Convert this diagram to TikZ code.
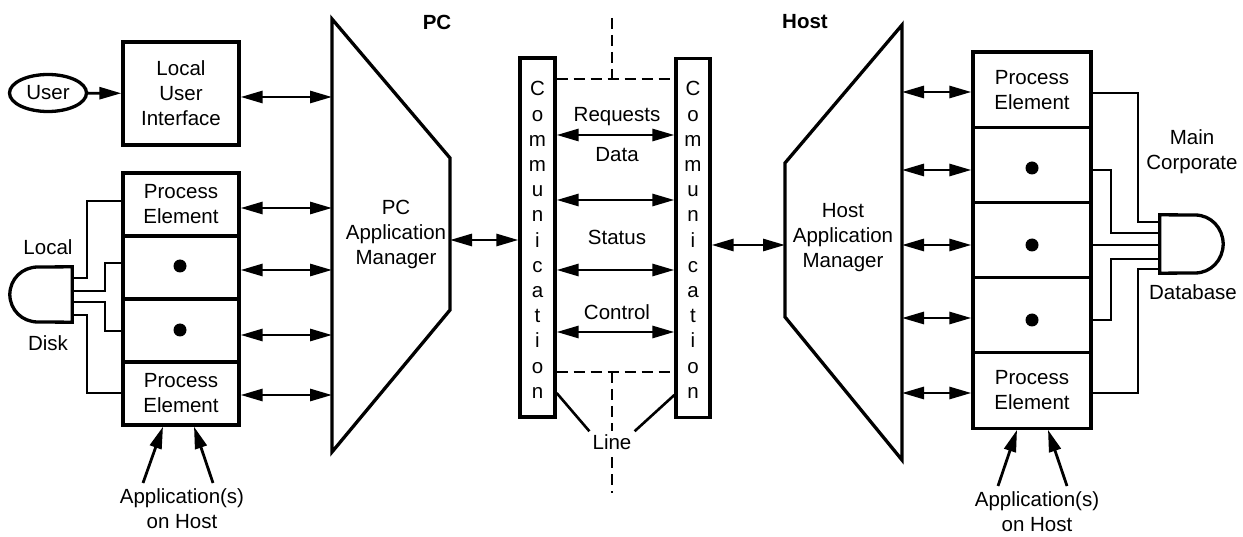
\documentclass[tikz,border=0pt]{standalone}
\usepackage{fontspec}
\setmainfont{Liberation Sans}
\usetikzlibrary{arrows.meta,shapes.geometric}
\begin{document}
\begin{tikzpicture}[x=1pt,y=-1pt,
  >={Triangle[length=22pt,width=12pt]},
  every node/.style={font=\fontsize{20.5}{25}\selectfont},
  box/.style={draw, line width=3.3pt, inner sep=0pt, align=center},
  wire/.style={line width=2.6pt},
  conn/.style={line width=2.8pt},
  shapeline/.style={line width=3.3pt, line join=miter},
  dashline/.style={line width=2.8pt, dash pattern=on 11pt off 6pt},
  lbl/.style={align=center, inner sep=1pt},
  dot/.style={circle, fill, minimum size=13pt, inner sep=0pt},
  title/.style={font=\fontsize{20.5}{25}\selectfont\bfseries}
]
\useasboundingbox (0,0) rectangle (1243,537);

% titles
\node[title] (pcT) at (437,22) {PC};
\node[title] (hostT) at (805,22) {Host};

% user and local user interface
\node[draw, ellipse, line width=3.3pt, minimum width=77pt, minimum height=37pt, inner sep=0pt] (user) at (48,93) {User};
\node[box, minimum width=116pt, minimum height=103pt] (lui) at (181,93.5) {Local\\User\\Interface};
\draw[conn,->] (user) -- (lui);

% PC application manager
\coordinate (pcA) at (332,19);
\coordinate (pcB) at (450,158);
\coordinate (pcC) at (450,310);
\coordinate (pcD) at (332,452);
\draw[shapeline] (pcA) -- (pcB) -- (pcC) -- (pcD) -- cycle;
\node[lbl] (pcm) at (396,234) {PC\\Application\\Manager};

% left stack
\node[box, minimum width=116pt, minimum height=63pt] (lp1) at (181,204.5) {Process\\Element};
\node[box, minimum width=116pt, minimum height=63pt] (lp2) at (181,267.5) {};
\node[box, minimum width=116pt, minimum height=63pt] (lp3) at (181,330.5) {};
\node[box, minimum width=116pt, minimum height=63pt] (lp4) at (181,393.5) {Process\\Element};
\node[dot] (ld1) at (180,266) {};
\node[dot] (ld2) at (180,330) {};

\draw[conn,<->] (lui.east |- 0,97) -- (pcA |- 0,97);
\draw[conn,<->] (lp1.east |- 0,208) -- (pcA |- 0,208);
\draw[conn,<->] (lp2.east |- 0,270) -- (pcA |- 0,270);
\draw[conn,<->] (lp3.east |- 0,335) -- (pcA |- 0,335);
\draw[conn,<->] (lp4.east |- 0,395) -- (pcA |- 0,395);

% local disk
\node[minimum width=62pt, minimum height=55pt, inner sep=0pt] (ldisk) at (41,294.5) {};
\draw[shapeline] (ldisk.north east) -- (38,267) .. controls (22,267) and (10,279) .. (ldisk.west)
  .. controls (10,310) and (22,322) .. (38,322) -- (ldisk.south east) -- cycle;
\node[lbl] (localT) at (48,247) {Local};
\node[lbl] (diskT) at (48,343) {Disk};
\draw[wire] (ldisk.east |- 0,278) -| (87,201) -- (lp1.west |- 0,201);
\draw[wire] (ldisk.east |- 0,291) -| (105,263) -- (lp2.west |- 0,263);
\draw[wire] (ldisk.east |- 0,302) -| (105,331) -- (lp3.west |- 0,331);
\draw[wire] (ldisk.east |- 0,315) -| (87,393) -- (lp4.west |- 0,393);

% applications (left)
\node[lbl] (appL) at (182,509) {Application(s)\\on Host};
\coordinate (aL1) at (143,483);
\coordinate (aL2) at (213,483);
\draw[conn,->] (aL1) -- (lp4.south -| 163,0);
\draw[conn,->] (aL2) -- (lp4.south -| 194,0);

% communication boxes
\node[draw, line width=3.3pt, minimum width=35pt, minimum height=359pt, inner sep=0pt] (commL) at (537.5,237.5) {};
\node[draw, line width=3.3pt, minimum width=34pt, minimum height=359pt, inner sep=0pt] (commR) at (693,238) {};
\foreach \ch [count=\i] in {C,o,m,m,u,n,i,c,a,t,i,o,n}{
  \node[anchor=base, inner sep=0pt] (cl\i) at (537.5,{96+(\i-1)*25.2}) {\ch};
  \node[anchor=base, inner sep=0pt] (cr\i) at (693,{96+(\i-1)*25.2}) {\ch};
}

% line (dashed)
\draw[dashline] (612,18) -- (612,79);
\draw[dashline] (commL.east |- 0,79) -- (commR.west |- 0,79);
\draw[dashline] (commL.east |- 0,372) -- (commR.west |- 0,372);
\draw[dashline] (612,372) -- (612,493);
\node[lbl, fill=white, inner sep=3pt] (lineT) at (612,442) {Line};
\draw[wire] (commL.east |- 0,393) -- (lineT.north west);
\draw[wire] (commR.west |- 0,395) -- (lineT.north east);

% messages
\node[lbl] (reqT) at (617,117) {Requests};
\node[lbl] (dataT) at (617,155) {Data};
\node[lbl] (statT) at (617,237) {Status};
\node[lbl] (ctrlT) at (617,312) {Control};
\draw[conn,<->] (commL.east |- 0,135) -- (commR.west |- 0,135);
\draw[conn,<->] (commL.east |- 0,200) -- (commR.west |- 0,200);
\draw[conn,<->] (commL.east |- 0,270) -- (commR.west |- 0,270);
\draw[conn,<->] (commL.east |- 0,332) -- (commR.west |- 0,332);

% manager <-> communication
\draw[conn,<->] (pcB |- 0,240) -- (commL.west |- 0,240);

% host application manager
\coordinate (hmA) at (902,25);
\coordinate (hmB) at (785,163);
\coordinate (hmC) at (785,317);
\coordinate (hmD) at (902,460);
\draw[shapeline] (hmA) -- (hmB) -- (hmC) -- (hmD) -- cycle;
\node[lbl] (hm) at (843,238) {Host\\Application\\Manager};
\draw[conn,<->] (commR.east |- 0,245) -- (hmB |- 0,245);

% right stack
\node[box, minimum width=118pt, minimum height=75.2pt] (rp1) at (1032,89.6) {Process\\Element};
\node[box, minimum width=118pt, minimum height=75.2pt] (rp2) at (1032,164.8) {};
\node[box, minimum width=118pt, minimum height=75.2pt] (rp3) at (1032,240) {};
\node[box, minimum width=118pt, minimum height=75.2pt] (rp4) at (1032,315.2) {};
\node[box, minimum width=118pt, minimum height=75.6pt] (rp5) at (1032,390.4) {Process\\Element};
\node[dot] (rd1) at (1032,168) {};
\node[dot] (rd2) at (1032,245) {};
\node[dot] (rd3) at (1032,320) {};

\draw[conn,<->] (hmA |- 0,92) -- (rp1.west |- 0,92);
\draw[conn,<->] (hmA |- 0,170) -- (rp2.west |- 0,170);
\draw[conn,<->] (hmA |- 0,245) -- (rp3.west |- 0,245);
\draw[conn,<->] (hmA |- 0,318) -- (rp4.west |- 0,318);
\draw[conn,<->] (hmA |- 0,393) -- (rp5.west |- 0,393);

% main corporate database
\node[minimum width=63pt, minimum height=58pt, inner sep=0pt] (rdisk) at (1191.5,244) {};
\draw[shapeline] (rdisk.north west) -- (1195,215) .. controls (1211,215) and (1223,228) .. (rdisk.east)
  .. controls (1223,260) and (1211,273) .. (1195,273) -- (rdisk.south west) -- cycle;
\node[lbl] (mainT) at (1192,152) {Main\\Corporate};
\node[lbl] (dbT) at (1193,292) {Database};
\draw[wire] (rp1.east |- 0,93) -| (1138,222) -- (rdisk.west |- 0,222);
\draw[wire] (rp2.east |- 0,170) -| (1111,233) -- (rdisk.west |- 0,233);
\draw[wire] (rp3.east |- 0,245) -- (rdisk.west |- 0,245);
\draw[wire] (rp4.east |- 0,320) -| (1111,259) -- (rdisk.west |- 0,259);
\draw[wire] (rp5.east |- 0,393) -| (1138,269) -- (rdisk.west |- 0,269);

% applications (right)
\node[lbl] (appR) at (1037,512) {Application(s)\\on Host};
\coordinate (aR1) at (998,486);
\coordinate (aR2) at (1067,486);
\draw[conn,->] (aR1) -- (rp5.south -| 1017,0);
\draw[conn,->] (aR2) -- (rp5.south -| 1048,0);
\end{tikzpicture}
\end{document}
